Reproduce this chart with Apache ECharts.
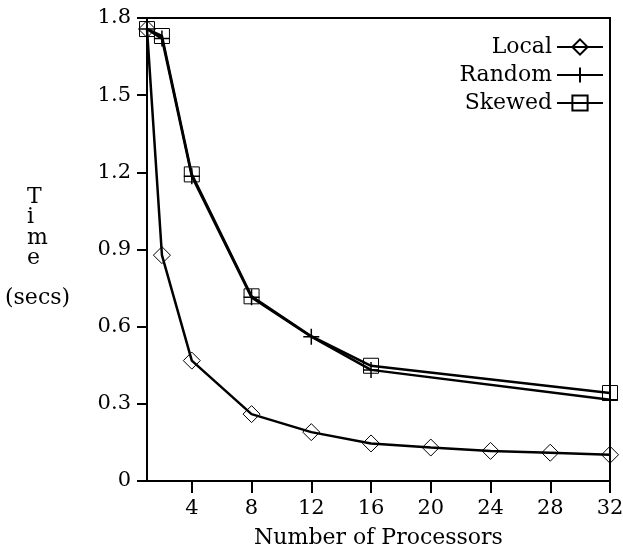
<!DOCTYPE html>
<html>
<head>
<meta charset="utf-8">
<script src="https://cdn.jsdelivr.net/npm/echarts@6/dist/echarts.min.js"></script>
<style>
html,body{margin:0;padding:0;background:#fff;}
#chart{width:623px;height:552px;}
</style>
</head>
<body>
<div id="chart"></div>
<script>
// ---- data ----
var localX   = [1, 2, 4, 8, 12, 16, 20, 24, 28, 32];
var localY   = [1.757, 0.878, 0.468, 0.260, 0.190, 0.146, 0.130, 0.117, 0.110, 0.102];
var randomX  = [1, 2, 4, 8, 12, 16, 32];
var randomY  = [1.757, 1.720, 1.185, 0.714, 0.561, 0.432, 0.316];
var skewedX  = [1, 2, 4, 8, 12, 16, 32];
var skewedY  = [1.757, 1.730, 1.192, 0.718, 0.563, 0.448, 0.342];
var skewedMarked = [true, true, true, true, false, true, true];
var xTicks   = [4, 8, 12, 16, 20, 24, 28, 32];
var seriesNames = ['Local', 'Random', 'Skewed'];

var FONT = 'DejaVu Serif';
var crossPath = 'path://M0,5L10,5M5,0L5,10';

function pairs(xs, ys) { return xs.map(function (x, i) { return [x, ys[i]]; }); }

var skewedData = skewedX.map(function (x, i) {
  var d = { value: [x, skewedY[i]] };
  if (!skewedMarked[i]) d.symbol = 'none';
  return d;
});

var markerStyle = { color: 'rgba(0,0,0,0)', borderColor: '#000', borderWidth: 1 };

var chart = echarts.init(document.getElementById('chart'), null, { renderer: 'canvas' });
chart.setOption({
  animation: false,
  backgroundColor: '#fff',
  textStyle: { fontFamily: FONT, color: '#000' },
  grid: { left: 147, right: 13, top: 18, bottom: 71, outerBoundsMode: 'none', containLabel: false, show: true, borderColor: '#000', borderWidth: 2, backgroundColor: 'transparent' },
  legend: {
    data: seriesNames,
    orient: 'vertical',
    align: 'right',
    right: 14,
    top: 31,
    itemWidth: 46,
    itemHeight: 19,
    itemGap: 6,
    padding: [5, 5, 5, 5],
    textStyle: { fontFamily: FONT, fontSize: 22, color: '#000' }
  },
  xAxis: {
    type: 'value',
    min: 1,
    max: 32,
    name: 'Number of Processors',
    nameLocation: 'middle',
    nameGap: 46,
    nameTextStyle: { fontFamily: FONT, fontSize: 22, color: '#000' },
    axisLine: { show: true, onZero: false, lineStyle: { color: '#000', width: 2 } },
    axisTick: { show: true, length: 12, lineStyle: { color: '#000', width: 2 }, customValues: xTicks },
    axisLabel: { customValues: xTicks, margin: 17, fontFamily: FONT, fontSize: 21, color: '#000' },
    splitLine: { show: false }
  },
  yAxis: {
    type: 'value',
    min: 0,
    max: 1.8,
    interval: 0.3,
    axisLine: { show: true, onZero: false, lineStyle: { color: '#000', width: 2 } },
    axisTick: { show: true, length: 10, lineStyle: { color: '#000', width: 2 } },
    axisLabel: {
      margin: 16, fontFamily: FONT, fontSize: 21, color: '#000',
      formatter: function (v) { return v === 0 ? '0' : v.toFixed(1); }
    },
    splitLine: { show: false }
  },
  graphic: [
    {
      type: 'text', left: 27, top: 186,
      style: { text: 'T\ni\nm\ne', fontFamily: FONT, fontSize: 22, lineHeight: 20.5, align: 'center', fill: '#000' }
    },
    {
      type: 'text', left: 5, top: 287,
      style: { text: '(secs)', fontFamily: FONT, fontSize: 22, fill: '#000' }
    }
  ],
  series: [
    {
      name: 'Local', type: 'line', data: pairs(localX, localY),
      symbol: 'diamond', symbolSize: 17, showAllSymbol: true,
      lineStyle: { color: '#000', width: 2.5 }, itemStyle: markerStyle, z: 3
    },
    {
      name: 'Random', type: 'line', data: pairs(randomX, randomY),
      symbol: crossPath, symbolSize: 16, showAllSymbol: true,
      lineStyle: { color: '#000', width: 2.5 }, itemStyle: { color: 'rgba(0,0,0,0)', borderColor: '#000', borderWidth: 1.5 }, z: 3
    },
    {
      name: 'Skewed', type: 'line', data: skewedData,
      symbol: 'rect', symbolSize: 15, showAllSymbol: true,
      lineStyle: { color: '#000', width: 2.5 }, itemStyle: markerStyle, z: 3
    }
  ]
});
</script>
</body>
</html>
